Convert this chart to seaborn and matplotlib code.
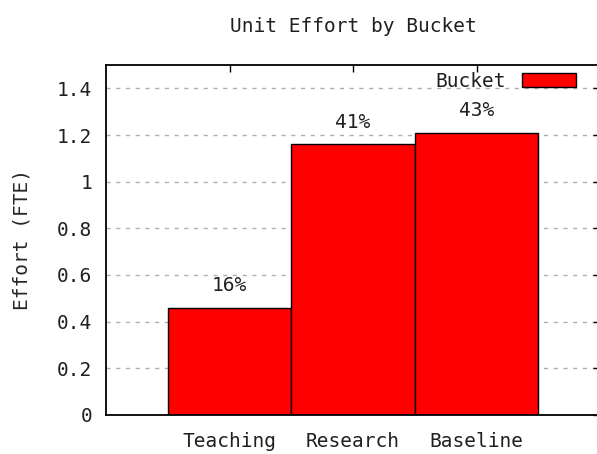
import numpy as np
import pandas as pd
import matplotlib
matplotlib.use("Agg")
import matplotlib.pyplot as plt
import seaborn as sns

# -----------------------------------
# Data
# -----------------------------------
buckets = ["Teaching", "Research", "Baseline"]
effort = [0.46, 1.16, 1.21]
y_ticks = [0, 0.2, 0.4, 0.6, 0.8, 1, 1.2, 1.4]
y_tick_labels = ["0", "0.2", "0.4", "0.6", "0.8", "1", "1.2", "1.4"]

df = pd.DataFrame({"Bucket": buckets, "Effort": effort})
total = sum(effort)
pct_labels = [f"{v / total * 100:.0f}%" for v in effort]

sns.set_style("white")
plt.rcParams["font.family"] = ["DejaVu Sans Mono"]
plt.rcParams["font.size"] = 14
plt.rcParams["text.color"] = "#202020"

fig = plt.figure(figsize=(5.97, 4.54), dpi=100)
# the plot box runs a little past the right edge of the picture, as in the original
ax = fig.add_axes([106 / 597, 39 / 454, 494 / 597, 350 / 454])

sns.barplot(data=df, x="Bucket", y="Effort", color="#ff0000", saturation=1,
            edgecolor="black", linewidth=1, width=1, label="Bucket", ax=ax, zorder=2)

ax.set_xlim(-1, 3)
ax.set_ylim(0, 1.5)
ax.set_yticks(y_ticks)
ax.set_yticklabels(y_tick_labels)

# dotted horizontal grid like gnuplot
for y in y_ticks[1:]:
    ax.axhline(y, color="#b0b0b0", linewidth=1, linestyle=(0, (3, 4)), zorder=0)

ax.tick_params(axis="both", direction="in", length=5, width=1, color="black",
               labelsize=14, labelcolor="#202020", top=True, right=True)
ax.tick_params(axis="y", pad=10)
ax.tick_params(axis="x", pad=12)

for side in ["left", "right", "top", "bottom"]:
    ax.spines[side].set_visible(True)
    ax.spines[side].set_color("black")
    ax.spines[side].set_linewidth(1.3)

ax.bar_label(ax.containers[0], labels=pct_labels, padding=9, fontsize=14, color="#202020")

ax.set_xlabel("")
ax.set_ylabel("Effort (FTE)", fontsize=14, labelpad=18)
ax.set_title("Unit Effort by Bucket", fontsize=14, pad=24)

ax.legend(loc="upper right", bbox_to_anchor=(576 / 597, (454 - 72) / 454),
          bbox_transform=fig.transFigure, frameon=False, markerfirst=False,
          handlelength=2.8, handleheight=0.75, handletextpad=0.8,
          borderaxespad=0, borderpad=0, fontsize=14)

fig.savefig("out.png", dpi=100)
